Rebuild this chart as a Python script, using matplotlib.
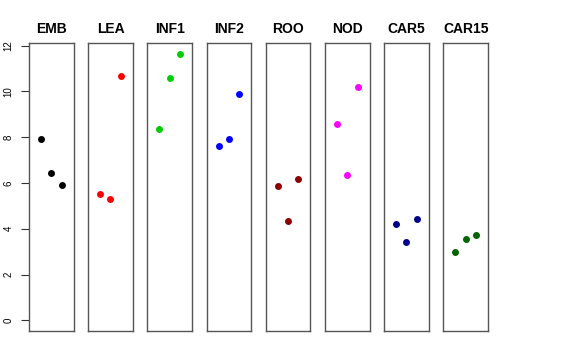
import matplotlib
matplotlib.use("Agg")
import matplotlib.pyplot as plt

categories = ["EMB", "LEA", "INF1", "INF2", "ROO", "NOD", "CAR5", "CAR15"]
values = [
    [7.94, 6.44, 5.90],
    [5.51, 5.30, 10.68],
    [8.35, 10.60, 11.65],
    [7.62, 7.94, 9.88],
    [5.86, 4.35, 6.18],
    [8.58, 6.36, 10.21],
    [4.20, 3.41, 4.44],
    [3.00, 3.54, 3.74],
]
colors = ["#000000", "#FF0000", "#00CD00", "#0000FF", "#8B0000", "#FF00FF", "#00008B", "#006400"]
yticks = [0, 2, 4, 6, 8, 10, 12]

plt.rcParams['font.family'] = ['Liberation Sans', 'DejaVu Sans']

W, H = 576, 360
fig = plt.figure(figsize=(W / 100, H / 100), dpi=100)

left0, step, pw = 29, 59.2, 44.5
top, bottom = 43, 331
ymax = max(max(v) for v in values)
ylim = (-0.04 * ymax, ymax * 1.04)

for i, (cat, vals, col) in enumerate(zip(categories, values, colors)):
    ax = fig.add_axes([(left0 + step * i) / W, (H - bottom) / H, pw / W, (bottom - top) / H])
    ax.plot([1, 2, 3], vals, 'o', color=col, markersize=5, markeredgewidth=0)
    ax.set_xlim(-0.16, 4.16)
    ax.set_ylim(*ylim)
    ax.set_xticks([])
    for s in ax.spines.values():
        s.set_color('#555555')
        s.set_linewidth(1.0)
    ax.set_title(cat, fontsize=10, fontweight='bold', pad=7)
    if i == 0:
        ax.set_yticks(yticks)
        ax.set_yticklabels([str(t) for t in yticks], rotation=90, va='center', fontsize=7)
        ax.tick_params(axis='y', length=6, width=0.8, pad=5, color='#333333')
    else:
        ax.set_yticks([])

fig.savefig("out.png", dpi=100)
